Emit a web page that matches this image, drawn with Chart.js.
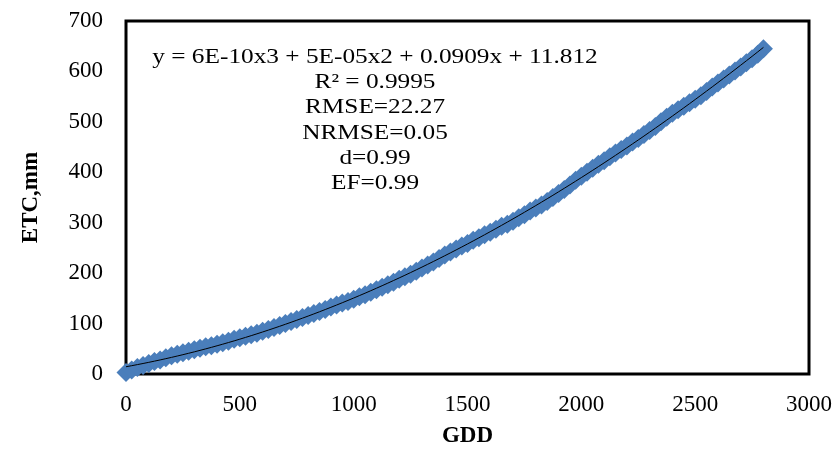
<!DOCTYPE html>
<html>
<head>
<meta charset="utf-8">
<script src="https://cdn.jsdelivr.net/npm/chart.js@4.4.1/dist/chart.umd.min.js"></script>
<style>
    html, body { margin: 0; padding: 0; background: #fff; }
    #wrap { width: 835px; height: 450px; }
</style>
</head>
<body>
<div id="wrap"><canvas id="etcChart" width="835" height="450"></canvas></div>
<script>
// GDD (x) and ETC, mm (y)
const gdd = [0, 25, 50, 75, 100, 125, 150, 175, 200, 225, 250, 275, 300, 325, 350, 375, 400, 425, 450, 475,
    500, 525, 550, 575, 600, 625, 650, 675, 700, 725, 750, 775, 800, 825, 850, 875, 900, 925, 950, 975,
    1000, 1025, 1050, 1075, 1100, 1125, 1150, 1175, 1200, 1225, 1250, 1275, 1300, 1325, 1350, 1375, 1400, 1425, 1450, 1475,
    1500, 1525, 1550, 1575, 1600, 1625, 1650, 1675, 1700, 1725, 1750, 1775, 1800, 1825, 1850, 1875, 1900, 1925, 1950, 1975,
    2000, 2025, 2050, 2075, 2100, 2125, 2150, 2175, 2200, 2225, 2250, 2275, 2300, 2325, 2350, 2375, 2400, 2425, 2450, 2475,
    2500, 2525, 2550, 2575, 2600, 2625, 2650, 2675, 2700, 2725, 2750, 2775, 2800];
const etc = [3, 8, 13, 17, 21, 25, 28, 32, 36, 39, 42, 45, 48, 51, 54, 56, 59, 62, 65, 69,
    72, 75, 78, 81, 85, 88, 92, 96, 100, 104, 108, 112, 116, 120, 124, 128, 133, 137, 141, 144,
    148, 153, 157, 162, 167, 172, 177, 182, 188, 193, 198, 204, 210, 216, 222, 229, 236, 242, 248, 254,
    259, 265, 270, 276, 281, 287, 293, 297, 303, 310, 316, 323, 329, 335, 342, 350, 358, 366, 375, 384,
    392, 400, 408, 416, 423, 431, 438, 445, 452, 460, 467, 475, 483, 491, 500, 509, 517, 524, 531, 538,
    545, 552, 560, 569, 577, 585, 593, 601, 609, 617, 625, 634, 645];

const statLines = ['y = 6E-10x3 + 5E-05x2 + 0.0909x + 11.812', 'R² = 0.9995', 'RMSE=22.27', 'NRMSE=0.05', 'd=0.99', 'EF=0.99'];

const serif = '"Liberation Serif", "Times New Roman", serif';
const blue = '#4A7EBB';

// cubic least-squares trendline through the points (like Excel's poly trendline)
function cubicFit(xs, ys) {
    const s = 1000;
    const A = [[0, 0, 0, 0], [0, 0, 0, 0], [0, 0, 0, 0], [0, 0, 0, 0]];
    const b = [0, 0, 0, 0];
    xs.forEach((x, k) => {
        const u = x / s;
        for (let i = 0; i < 4; i++) {
            b[i] += Math.pow(u, i) * ys[k];
            for (let j = 0; j < 4; j++) A[i][j] += Math.pow(u, i + j);
        }
    });
    for (let c = 0; c < 4; c++) {
        for (let r = c + 1; r < 4; r++) {
            const f = A[r][c] / A[c][c];
            for (let j = c; j < 4; j++) A[r][j] -= f * A[c][j];
            b[r] -= f * b[c];
        }
    }
    const coef = [0, 0, 0, 0];
    for (let r = 3; r >= 0; r--) {
        let v = b[r];
        for (let j = r + 1; j < 4; j++) v -= A[r][j] * coef[j];
        coef[r] = v / A[r][r];
    }
    return x => {
        const u = x / s;
        return coef[0] + coef[1] * u + coef[2] * u * u + coef[3] * u * u * u;
    };
}

const trend = cubicFit(gdd, etc);

const frame = {
    id: 'frame',
    beforeDatasetsDraw(chart) {
        const { ctx, chartArea: a } = chart;
        ctx.save();
        ctx.strokeStyle = '#000';
        ctx.lineWidth = 3;
        ctx.strokeRect(a.left, a.top, a.right - a.left, a.bottom - a.top);
        ctx.restore();
    },
    afterDraw(chart) {
        const { ctx, chartArea: a } = chart;
        ctx.save();
        ctx.fillStyle = '#000';
        ctx.font = '22px ' + serif;
        ctx.textAlign = 'center';
        ctx.textBaseline = 'middle';
        statLines.forEach((t, i) => {
            ctx.save();
            ctx.translate(a.left + 249, a.top + 36 + i * 25.3);
            ctx.scale(1.15, 1);
            ctx.fillText(t, 0, 0);
            ctx.restore();
        });
        ctx.restore();
    }
};

new Chart(document.getElementById('etcChart').getContext('2d'), {
    type: 'scatter',
    data: {
        datasets: [{
            label: 'Trend',
            data: gdd.map(x => ({ x: x, y: trend(x) })),
            showLine: true,
            borderColor: '#000',
            borderWidth: 1,
            pointRadius: 0,
            fill: false,
            tension: 0
        }, {
            label: 'ETC',
            data: gdd.map((x, i) => ({ x: x, y: etc[i] })),
            pointStyle: 'rectRot',
            pointRadius: 9.5,
            backgroundColor: blue,
            borderColor: blue,
            borderWidth: 0,
            clip: false
        }]
    },
    options: {
        responsive: false,
        animation: false,
        layout: { padding: { left: 0, top: 21, right: 26, bottom: 0 } },
        plugins: { legend: { display: false }, tooltip: { enabled: false } },
        scales: {
            x: {
                type: 'linear',
                min: 0,
                max: 3000,
                grid: { display: false, drawTicks: false },
                border: { display: false },
                ticks: { stepSize: 500, padding: 17, color: '#000', font: { family: serif, size: 23 }, maxRotation: 0, callback: v => String(v) },
                title: { display: true, text: 'GDD', color: '#000', font: { family: serif, size: 23, weight: 'bold' }, padding: { top: 0, bottom: 0 } },
                afterFit(scale) {
                    scale.height = 76;
                    scale.paddingLeft = 0;
                    scale.paddingRight = 0;
                }
            },
            y: {
                min: 0,
                max: 700,
                grid: { display: false, drawTicks: false },
                border: { display: false },
                ticks: { stepSize: 100, padding: 23, color: '#000', font: { family: serif, size: 23 }, callback: v => String(v) },
                title: { display: true, text: 'ETC,mm', color: '#000', font: { family: serif, size: 23, weight: 'bold' }, padding: { top: 17, bottom: 0 } },
                afterFit(scale) {
                    scale.width = 126;
                    scale.paddingTop = 0;
                    scale.paddingBottom = 0;
                }
            }
        }
    },
    plugins: [frame]
});
</script>
</body>
</html>
